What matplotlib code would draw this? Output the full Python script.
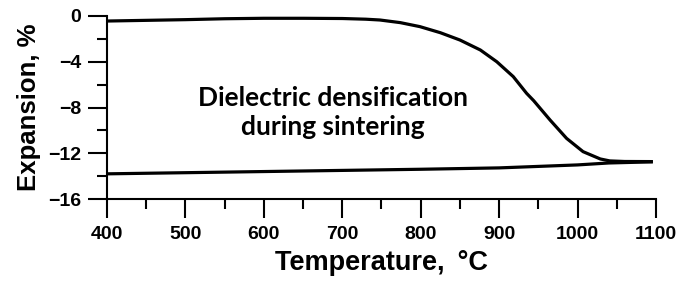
import matplotlib
matplotlib.use("Agg")
import matplotlib.pyplot as plt
from matplotlib.ticker import MultipleLocator

# heating curve (densification)
heat_temp = [400, 450, 500, 550, 600, 650, 700, 730, 748, 774, 799, 825, 850,
             876, 897, 918, 935, 944, 965, 986, 1007, 1029, 1041, 1060, 1096]
heat_exp = [-0.44, -0.38, -0.32, -0.24, -0.2, -0.2, -0.22, -0.28, -0.35, -0.58,
            -0.93, -1.46, -2.1, -2.97, -4.0, -5.3, -6.76, -7.4, -9.1, -10.7,
            -11.86, -12.5, -12.67, -12.72, -12.73]

# cooling curve
cool_temp = [400, 500, 600, 700, 800, 900, 1000, 1040, 1096]
cool_exp = [-13.8, -13.7, -13.6, -13.5, -13.4, -13.28, -13.02, -12.85, -12.75]

x_ticks = [400, 500, 600, 700, 800, 900, 1000, 1100]
y_ticks = [0, -4, -8, -12, -16]

plt.rcParams['font.family'] = ['Liberation Sans', 'DejaVu Sans']
plt.rcParams['font.weight'] = 'bold'

fig = plt.figure(figsize=(6.92, 2.81), dpi=100)
ax = fig.add_axes([107/692, 1 - 199/281, (656 - 107)/692, (199 - 16)/281])

ax.plot(heat_temp, heat_exp, color='black', lw=2.3, solid_capstyle='butt')
ax.plot(cool_temp, cool_exp, color='black', lw=2.3, solid_capstyle='butt')

ax.set_xlim(400, 1100)
ax.set_ylim(-16, 0)
ax.set_xticks(x_ticks)
ax.set_yticks(y_ticks)
ax.xaxis.set_minor_locator(MultipleLocator(50))
ax.yaxis.set_minor_locator(MultipleLocator(2))

for side in ['top', 'right']:
    ax.spines[side].set_visible(False)
for side in ['left', 'bottom']:
    ax.spines[side].set_linewidth(1.5)

ax.tick_params(which='major', direction='out', length=13.5, width=1.5,
               labelsize=14, colors='black')
ax.tick_params(which='minor', direction='out', length=7, width=1.5)
ax.tick_params(axis='x', which='major', pad=6)
ax.tick_params(axis='y', which='major', pad=5)

ax.set_xlabel('Temperature, \u2009°C', fontsize=19.5, fontweight='bold', labelpad=5)
ax.set_ylabel('Expansion, %', fontsize=18.5, fontweight='bold', labelpad=5)

ax.text(688, -8.45, 'Dielectric densification\nduring sintering', ha='center',
        va='center', fontsize=19, fontweight='bold', family='Lato',
        linespacing=1.25)

plt.savefig("out.png", dpi=100)
